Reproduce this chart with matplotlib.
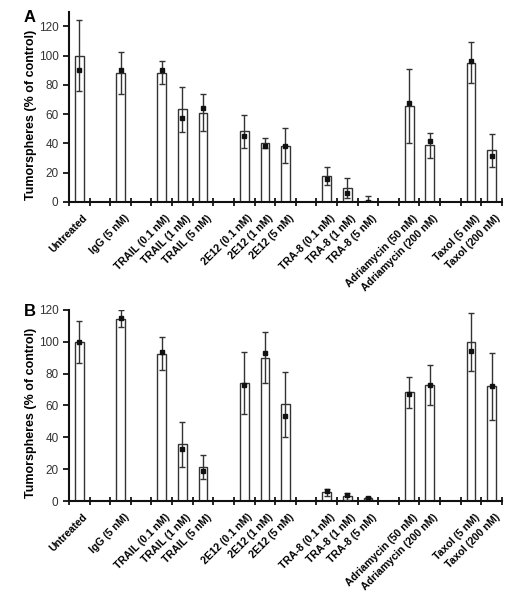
# Tumorsphere counts after treatment, panels A and B

import numpy as np
import matplotlib.pyplot as plt

plt.rcParams['font.family'] = ['Liberation Sans', 'DejaVu Sans']

labels = ['Untreated', 'IgG (5 nM)', 'TRAIL (0.1 nM)', 'TRAIL (1 nM)', 'TRAIL (5 nM)',
          '2E12 (0.1 nM)', '2E12 (1 nM)', '2E12 (5 nM)',
          'TRA-8 (0.1 nM)', 'TRA-8 (1 nM)', 'TRA-8 (5 nM)',
          'Adriamycin (50 nM)', 'Adriamycin (200 nM)', 'Taxol (5 nM)', 'Taxol (200 nM)']
# slot of each bar on the axis (empty slots are gaps between groups)
slots = [0, 2, 4, 5, 6, 8, 9, 10, 12, 13, 14, 16, 17, 19, 20]
n_slots = 21

# panel A
bars_a = [100, 88.4, 88.4, 63.2, 61.1, 48.2, 40.2, 38.4, 17.7, 9.5, 0.7, 65.7, 38.6, 95.2, 35.2]
err_a = [24.5, 14.3, 8.1, 15.3, 12.4, 11.3, 3.2, 12.0, 6.2, 6.6, 3.4, 25.2, 8.8, 14.0, 11.3]
dots_a = [90, 90, 90, 57.7, 64.1, 44.8, 38.4, 38.0, 15.7, 5.9, 0.0, 67.3, 41.6, 96.6, 31.6]

# panel B
bars_b = [100, 114.5, 92.6, 35.7, 21.3, 74.0, 90.1, 60.8, 5.4, 2.9, 2.0, 68.3, 72.9, 99.9, 72.1]
err_b = [13.2, 5.2, 10.2, 14.2, 7.4, 19.5, 16.2, 20.4, 2.3, 2.1, 0.7, 9.9, 12.8, 18.2, 21.1]
dots_b = [100, 114.9, 93.4, 32.4, 18.8, 72.7, 93.2, 53.5, 6.3, 3.8, 1.7, 67.1, 72.9, 94.5, 72.3]

fig = plt.figure(figsize=(5.29, 5.99), dpi=100)
ax_a = fig.add_axes([0.1304, 0.6628, 0.8185, 0.3177])
ax_b = fig.add_axes([0.1304, 0.1636, 0.8185, 0.3189])

x = np.array(slots) + 0.5

def draw_panel(ax, bars, err, dots, ymax):
    ax.bar(x, bars, width=0.42, color='white', edgecolor='#333333', linewidth=1.0, zorder=2)
    ax.errorbar(x, bars, yerr=err, fmt='none', ecolor='#333333', elinewidth=1.0,
                capsize=2.5, capthick=1.0, zorder=3)
    ax.plot(x, dots, 's', color='#111111', markersize=3.5, zorder=4)
    ax.set_xlim(0, n_slots)
    ax.set_ylim(0, ymax)
    ax.set_yticks(range(0, 121, 20))
    ax.set_xticks(range(n_slots + 1))
    ax.set_xticklabels([])
    ax.set_xticks(x + 0.15, minor=True)
    ax.set_xticklabels(labels, minor=True, rotation=45, ha='right', rotation_mode='anchor',
                       fontsize=7.6, fontweight='bold')
    ax.tick_params(axis='x', which='minor', length=0, pad=8)
    ax.tick_params(axis='x', which='major', length=6, width=1.2, direction='inout')
    ax.tick_params(axis='y', length=4, width=1.2, labelsize=8.5, labelcolor='#333333')
    for s in ['top', 'right']:
        ax.spines[s].set_visible(False)
    for s in ['left', 'bottom']:
        ax.spines[s].set_linewidth(1.5)
        ax.spines[s].set_color('#111111')
    ax.set_ylabel('Tumorspheres (% of control)', fontsize=9, fontweight='bold')
    ax.yaxis.set_label_coords(-0.074, 0.46)

draw_panel(ax_a, bars_a, err_a, dots_a, 130)
draw_panel(ax_b, bars_b, err_b, dots_b, 120)

fig.text(30 / 529, 1 - 17 / 599, 'A', fontsize=12, fontweight='bold', ha='center', va='center')
fig.text(30 / 529, 1 - 312 / 599, 'B', fontsize=12, fontweight='bold', ha='center', va='center')

plt.savefig('out.png', dpi=100)
